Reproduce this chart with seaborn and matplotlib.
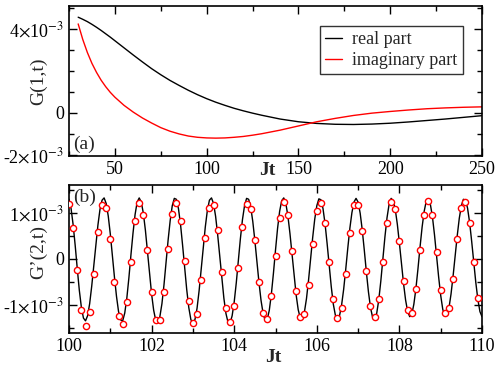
import numpy as np
import matplotlib
matplotlib.use("Agg")
import matplotlib.pyplot as plt
from matplotlib.ticker import FixedLocator, MultipleLocator
import seaborn as sns

# panel (a): G(1,t), values in units of 1e-3
jt_a = [30, 32.5, 35, 37.5, 40, 42.5, 45, 47.5, 50, 55, 60, 65, 70, 75, 80, 85,
        90, 95, 100, 105, 110, 115, 120, 125, 130, 140, 150, 160, 170, 180, 190,
        200, 210, 220, 230, 240, 250]
g1_real = [4.56, 4.46, 4.35, 4.22, 4.08, 3.93, 3.77, 3.61, 3.44, 3.10, 2.76, 2.43,
           2.11, 1.82, 1.55, 1.31, 1.08, 0.87, 0.68, 0.51, 0.36, 0.22, 0.10, -0.01,
           -0.11, -0.29, -0.42, -0.50, -0.54, -0.55, -0.53, -0.49, -0.43, -0.36,
           -0.29, -0.21, -0.13]
g1_imag = [4.24, 3.50, 2.88, 2.36, 1.93, 1.56, 1.25, 0.98, 0.75, 0.36, 0.04, -0.24,
           -0.48, -0.70, -0.87, -1.00, -1.10, -1.16, -1.19, -1.20, -1.19, -1.16,
           -1.12, -1.06, -0.99, -0.82, -0.62, -0.42, -0.26, -0.12, -0.01, 0.07,
           0.14, 0.20, 0.24, 0.27, 0.29]

# panel (b): G'(2,t), line sampled every 0.05 from Jt=100, dots every 0.1
g2_line = [1.29, 1.09, 0.74, 0.29, -0.21, -0.68, -1.05, -1.28, -1.34, -1.23,
           -0.97, -0.59, -0.15, 0.31, 0.73, 1.07, 1.27, 1.32, 1.20, 0.93,
           0.54, 0.08, -0.39, -0.81, -1.14, -1.32, -1.34, -1.17, -0.85, -0.41,
           0.09, 0.56, 0.96, 1.23, 1.32, 1.23, 0.99, 0.62, 0.16, -0.32,
           -0.76, -1.11, -1.33, -1.38, -1.25, -0.97, -0.56, -0.08, 0.41, 0.83,
           1.15, 1.31, 1.29, 1.09, 0.75, 0.30, -0.19, -0.66, -1.05, -1.31,
           -1.40, -1.31, -1.07, -0.69, -0.23, 0.25, 0.69, 1.05, 1.27, 1.32,
           1.20, 0.92, 0.52, 0.06, -0.42, -0.85, -1.18, -1.37, -1.39, -1.23,
           -0.93, -0.52, -0.04, 0.44, 0.85, 1.15, 1.31, 1.29, 1.12, 0.81,
           0.40, -0.06, -0.51, -0.90, -1.18, -1.33, -1.31, -1.11, -0.76, -0.31,
           0.19, 0.66, 1.03, 1.26, 1.32, 1.20, 0.93, 0.55, 0.10, -0.37,
           -0.78, -1.10, -1.28, -1.30, -1.15, -0.86, -0.46, 0.00, 0.46, 0.86,
           1.15, 1.30, 1.28, 1.09, 0.76, 0.33, -0.14, -0.60, -0.98, -1.22,
           -1.31, -1.23, -1.00, -0.66, -0.23, 0.23, 0.66, 1.00, 1.23, 1.31,
           1.23, 0.99, 0.63, 0.19, -0.28, -0.71, -1.05, -1.26, -1.31, -1.18,
           -0.89, -0.48, 0.00, 0.48, 0.89, 1.18, 1.31, 1.26, 1.07, 0.75,
           0.34, -0.10, -0.53, -0.89, -1.14, -1.25, -1.20, -0.98, -0.64, -0.21,
           0.26, 0.69, 1.03, 1.25, 1.30, 1.18, 0.91, 0.52, 0.07, -0.39,
           -0.79, -1.09, -1.24, -1.22, -1.06, -0.76, -0.37, 0.07, 0.50, 0.88,
           1.15, 1.29, 1.27, 1.10, 0.79, 0.38, -0.07, -0.51, -0.88, -1.14,
           -1.25]
g2_dots = [1.19, 0.66, -0.25, -1.10, -1.45, -1.14, -0.32, 0.59, 1.16, 1.10,
           0.44, -0.50, -1.24, -1.41, -0.94, -0.06, 0.81, 1.22, 0.96, 0.20,
           -0.71, -1.33, -1.33, -0.71, 0.21, 0.97, 1.22, 0.81, -0.04, -0.91,
           -1.38, -1.20, -0.46, 0.45, 1.11, 1.17, 0.62, -0.28, -1.07, -1.36,
           -1.02, -0.20, 0.69, 1.19, 1.09, 0.40, -0.50, -1.18, -1.30, -0.81,
           0.07, 0.88, 1.23, 0.95, 0.17, -0.70, -1.25, -1.20, -0.57, 0.32,
           1.04, 1.22, 0.78, -0.06, -0.87, -1.28, -1.06, -0.32, 0.56, 1.16,
           1.17, 0.60, -0.27, -1.02, -1.25, -0.87, -0.06, 0.78, 1.23, 1.07,
           0.39, -0.48, -1.11, -1.18, -0.66, 0.19, 0.96, 1.26, 0.94, 0.16,
           -0.68, -1.17, -1.07, -0.43, 0.44, 1.10, 1.24, 0.77, -0.06, -0.84]

jt_b_line = np.round(100 + 0.05 * np.arange(len(g2_line)), 2)
jt_b_dots = np.round(100 + 0.1 * np.arange(len(g2_dots)), 1)

sns.set_theme(style="ticks")
plt.rcParams['font.family'] = ['Liberation Serif', 'DejaVu Serif']
plt.rcParams['mathtext.fontset'] = 'stix'

fig = plt.figure(figsize=(5.0, 3.67), dpi=100)
ax1 = fig.add_axes([0.138, 0.575, 0.826, 0.409])
ax2 = fig.add_axes([0.138, 0.093, 0.826, 0.403])

sns.lineplot(x=jt_a, y=np.array(g1_real) * 1e-3, color='black', lw=1.0,
             label='real part', ax=ax1, estimator=None, sort=False)
sns.lineplot(x=jt_a, y=np.array(g1_imag) * 1e-3, color='red', lw=1.0,
             label='imaginary part', ax=ax1, estimator=None, sort=False)

sns.lineplot(x=jt_b_line, y=np.array(g2_line) * 1e-3, color='black', lw=1.0,
             ax=ax2, estimator=None, sort=False)
sns.scatterplot(x=jt_b_dots, y=np.array(g2_dots) * 1e-3, marker='o', s=20,
                facecolor='white', edgecolor='red', linewidth=1.0, zorder=3, ax=ax2)

tick_font = 13
for ax in (ax1, ax2):
    for sp in ax.spines.values():
        sp.set_visible(True)
        sp.set_linewidth(1.2)
        sp.set_color('black')
    ax.tick_params(which='both', direction='in', top=True, right=True,
                   labelsize=tick_font, colors='black', width=1.0)
    ax.tick_params(which='major', length=6)
    ax.tick_params(which='minor', length=3.5)

ax1.set_xlim(25, 250)
ax1.set_ylim(-2.05e-3, 5.1e-3)
ax1.xaxis.set_major_locator(MultipleLocator(50))
ax1.xaxis.set_minor_locator(MultipleLocator(25))
ax1.yaxis.set_major_locator(FixedLocator([-2e-3, 0, 4e-3]))
ax1.yaxis.set_minor_locator(MultipleLocator(1e-3))
ax1.set_yticklabels([r'-2$\times$10$^{-3}$', '0', r'4$\times$10$^{-3}$'])

ax2.set_xlim(100, 110)
ax2.set_ylim(-1.6e-3, 1.6e-3)
ax2.xaxis.set_major_locator(MultipleLocator(2))
ax2.xaxis.set_minor_locator(MultipleLocator(1))
ax2.yaxis.set_major_locator(FixedLocator([-1e-3, 0, 1e-3]))
ax2.yaxis.set_minor_locator(MultipleLocator(0.5e-3))
ax2.set_yticklabels([r'-1$\times$10$^{-3}$', '0', r'1$\times$10$^{-3}$'])

ax1.set_xlabel('Jt', fontsize=14, fontweight='bold')
ax1.xaxis.set_label_coords(0.48, -0.04)
ax1.set_ylabel('G(1,t)', fontsize=14)
ax1.yaxis.set_label_coords(-0.053, 0.5)
ax2.set_xlabel('Jt', fontsize=14, fontweight='bold')
ax2.xaxis.set_label_coords(0.494, -0.11)
ax2.set_ylabel('G’(2,t)', fontsize=14)
ax2.yaxis.set_label_coords(-0.053, 0.55)

ax1.text(0.01, 0.075, '(a)', transform=ax1.transAxes, fontsize=14,
         ha='left', va='center')
ax2.text(0.01, 0.915, '(b)', transform=ax2.transAxes, fontsize=14,
         ha='left', va='center')

leg = ax1.legend(loc='upper right', bbox_to_anchor=(0.954, 0.867), fontsize=13,
                 frameon=True, fancybox=False, handlelength=0.9, handletextpad=0.6,
                 borderpad=0.3, labelspacing=0.2, borderaxespad=0)
leg.get_frame().set_edgecolor('black')
leg.get_frame().set_linewidth(1.0)

fig.savefig('out.png', dpi=100)
